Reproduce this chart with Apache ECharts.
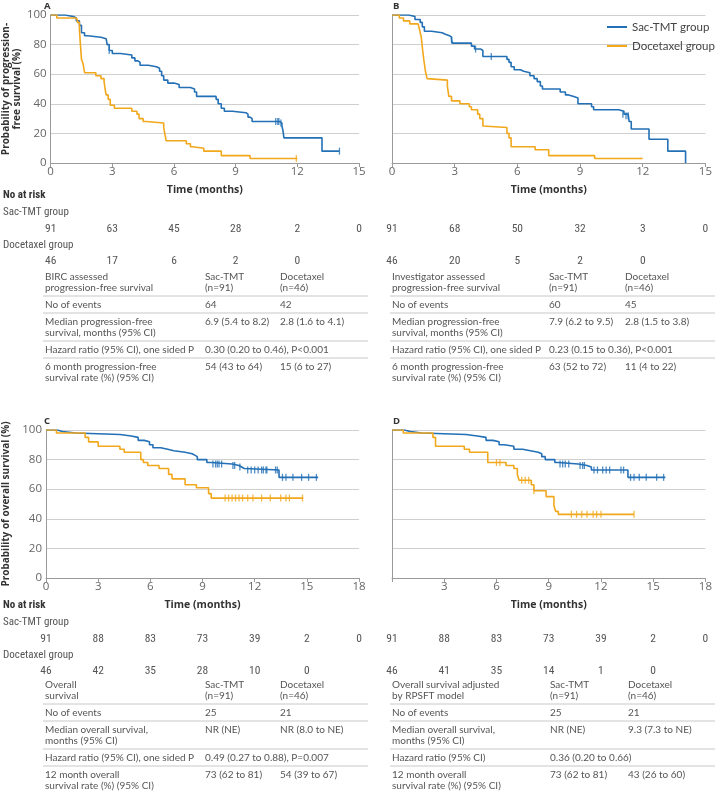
<!DOCTYPE html>
<html><head><meta charset="utf-8">
<script src="https://cdn.jsdelivr.net/npm/echarts@6/dist/echarts.min.js"></script>
<style>html,body{margin:0;padding:0;background:#fff}#c{width:715px;height:800px}</style>
</head><body><div id="c"></div>
<script>
const BLUE = '#2370b6', ORANGE = '#f2a81d';

// ---- Panel A: BIRC assessed PFS ----
const aSac = [[0,100],[0.7,99],[1.1,98],[1.25,96],[1.4,93],[1.5,88],[1.65,86],[1.8,85],[2.45,84],[2.7,83],[2.75,80],[2.85,76],[3.0,74],[3.4,73],[3.95,71],[4.1,69],[4.25,68],[4.35,66],[4.75,65],[5.15,64],[5.3,62],[5.4,59],[5.5,56],[5.7,54],[6.0,53],[6.25,51],[6.8,50],[7.0,48],[7.1,45],[8.05,43],[8.15,40],[8.3,37],[8.45,35],[8.85,34],[9.5,33],[9.6,31],[9.7,30],[9.8,28],[11.15,27],[11.25,25],[11.3,22],[11.35,17],[13.2,8],[14.05,8]];
const aSacCens = [[2.85,76],[10.95,28],[11.05,28],[11.1,28],[11.2,27],[14.05,8]];
const aDoc = [[0,100],[0.3,98],[1.2,97],[1.3,95],[1.4,90],[1.45,80],[1.5,70],[1.58,67],[1.65,61],[2.2,59],[2.45,57],[2.6,55],[2.65,50],[2.7,46],[2.8,43],[2.9,39],[3.1,37],[3.95,35],[4.2,33],[4.3,30],[4.5,28],[4.65,27],[5.5,24],[5.55,20],[5.62,15],[6.6,13],[6.8,11],[6.9,10],[7.45,8],[8.3,5],[9.7,3],[12.0,3]];
const aDocCens = [[11.95,3]];

// ---- Panel B: Investigator assessed PFS ----
const bSac = [[0,100],[0.8,99],[1.1,97],[1.35,95],[1.45,92],[1.55,89],[1.9,88],[2.4,87],[2.55,86],[2.75,85],[2.85,83],[2.9,81],[3.8,79],[3.95,77],[4.25,76],[4.35,72],[5.5,70],[5.6,68],[5.7,65],[5.85,63],[6.15,62],[6.3,61],[6.6,59],[6.8,57],[6.95,55],[7.1,52],[7.2,50],[8.05,48],[8.3,46],[8.45,45],[8.7,44],[8.9,40],[9.55,38],[9.65,36],[10.85,35],[11.1,33],[11.3,32],[11.35,28],[11.45,23],[12.3,16],[13.2,8],[14.05,0]];
const bSacCens = [[2.85,83],[4.0,77],[4.75,72],[11.05,33],[11.2,32],[11.3,32]];
const bDoc = [[0,100],[0.35,98],[0.55,96],[0.85,94],[1.25,93],[1.32,90],[1.4,85],[1.47,76],[1.52,70],[1.6,62],[1.68,57],[1.72,56],[2.65,52],[2.72,45],[2.85,42],[3.25,40],[3.7,38],[3.8,36],[4.1,33],[4.2,30],[4.35,25],[4.4,24],[5.5,20],[5.6,17],[5.7,11],[6.85,9],[7.5,5],[9.7,3],[12.0,3]];
const bDocCens = [];

// ---- Panel C: Overall survival ----
const cSac = [[0,100],[0.65,99],[0.95,98],[1.7,97],[4.25,96],[4.9,95],[5.3,93],[5.65,92],[5.95,90],[6.15,88],[6.6,87],[7.0,86],[7.35,85],[8.0,84],[8.4,83],[8.55,82],[8.7,80],[9.25,78],[9.5,77],[10.7,76],[11.1,75],[11.25,74],[11.4,73],[13.4,68],[15.65,68]];
const cSacCens = [[9.6,77],[9.75,77],[9.85,77],[9.95,77],[10.1,77],[10.75,76],[10.85,76],[11.15,75],[11.6,73],[11.8,73],[12.0,73],[12.2,73],[12.4,73],[12.5,73],[12.65,73],[12.7,73],[13.2,73],[13.3,73],[13.6,68],[13.8,68],[14.2,68],[14.7,68],[15.1,68],[15.55,68]];
const cDoc = [[0,100],[0.6,98],[2.25,95],[2.45,92],[3.0,89],[4.25,87],[4.5,85],[5.45,80],[5.6,78],[5.85,76],[6.5,74],[7.05,70],[7.25,67],[8.0,63],[8.65,61],[9.35,57],[9.5,54],[14.8,54]];
const cDocCens = [[10.3,54],[10.5,54],[10.7,54],[10.9,54],[11.1,54],[11.3,54],[11.6,54],[11.9,54],[12.4,54],[12.9,54],[13.5,54],[13.8,54],[14.0,54],[14.75,54]];

// ---- Panel D: OS adjusted by RPSFT ----
const dSac = [[0,100],[0.7,99],[1.05,98],[1.7,97],[4.25,96],[4.9,95],[5.4,93],[5.8,92],[6.15,90],[6.45,89],[7.0,87],[7.5,86],[7.95,85],[8.4,84],[8.6,82],[8.8,80],[9.35,78],[9.55,77],[10.7,76],[11.2,75],[11.45,73],[13.55,68],[15.7,68]];
const dSacCens = [[9.65,77],[9.8,77],[9.95,77],[10.15,77],[10.8,76],[10.95,76],[11.05,76],[11.6,73],[11.8,73],[12.1,73],[12.3,73],[12.5,73],[13.15,73],[13.3,73],[13.7,68],[13.9,68],[14.2,68],[14.6,68],[15.2,68],[15.6,68]];
const dDoc = [[0,100],[0.65,98],[2.35,95],[2.5,89],[4.15,87],[4.45,85],[5.5,78],[6.55,76],[7.0,74],[7.2,70],[7.3,66],[8.0,63],[8.15,59],[8.85,55],[9.3,49],[9.4,45],[9.55,43],[13.9,43]];
const dDocCens = [[6.0,78],[6.2,78],[7.45,66],[7.65,66],[7.85,66],[8.15,59],[10.3,43],[10.6,43],[10.9,43],[11.2,43],[11.55,43],[11.75,43],[12.0,43],[13.9,43]];

// ---- Axes ----
const yTicks = [0,20,40,60,80,100];
const pfsMax = 15, osMax = 18, xStep = 3;

// ---- Numbers at risk ----
const riskTimesPFS = [0,3,6,9,12,15];
const riskTimesOS = [0,3,6,9,12,15,18];
const riskA_sac = [91,63,45,28,2,0];
const riskA_doc = [46,17,6,2,0];
const riskB_sac = [91,68,50,32,3,0];
const riskB_doc = [46,20,5,2,0];
const riskC_sac = [91,88,83,73,39,2,0];
const riskC_doc = [46,42,35,28,10,0];
const riskD_sac = [91,88,83,73,39,2,0];
const riskD_doc = [46,41,35,14,1,0];

// ---- Summary tables ----
const tableA = [
  [['BIRC assessed','progression-free survival'],['Sac-TMT','(n=91)'],['Docetaxel','(n=46)']],
  [['No of events'],['64'],['42']],
  [['Median progression-free','survival, months (95% CI)'],['6.9 (5.4 to 8.2)'],['2.8 (1.6 to 4.1)']],
  [['Hazard ratio (95% CI), one sided P'],['0.30 (0.20 to 0.46), P<0.001'],['']],
  [['6 month progression-free','survival rate (%) (95% CI)'],['54 (43 to 64)'],['15 (6 to 27)']]
];
const tableB = [
  [['Investigator assessed','progression-free survival'],['Sac-TMT','(n=91)'],['Docetaxel','(n=46)']],
  [['No of events'],['60'],['45']],
  [['Median progression-free','survival, months (95% CI)'],['7.9 (6.2 to 9.5)'],['2.8 (1.5 to 3.8)']],
  [['Hazard ratio (95% CI), one sided P'],['0.23 (0.15 to 0.36), P<0.001'],['']],
  [['6 month progression-free','survival rate (%) (95% CI)'],['63 (52 to 72)'],['11 (4 to 22)']]
];
const tableC = [
  [['Overall','survival'],['Sac-TMT','(n=91)'],['Docetaxel','(n=46)']],
  [['No of events'],['25'],['21']],
  [['Median overall survival,','months (95% CI)'],['NR (NE)'],['NR (8.0 to NE)']],
  [['Hazard ratio (95% CI), one sided P'],['0.49 (0.27 to 0.88), P=0.007'],['']],
  [['12 month overall','survival rate (%) (95% CI)'],['73 (62 to 81)'],['54 (39 to 67)']]
];
const tableD = [
  [['Overall survival adjusted','by RPSFT model'],['Sac-TMT','(n=91)'],['Docetaxel','(n=46)']],
  [['No of events'],['25'],['21']],
  [['Median overall survival,','months (95% CI)'],['NR (NE)'],['9.3 (7.3 to NE)']],
  [['Hazard ratio (95% CI)'],['0.36 (0.20 to 0.66)'],['']],
  [['12 month overall','survival rate (%) (95% CI)'],['73 (62 to 81)'],['43 (26 to 60)']]
];

const chart = echarts.init(document.getElementById('c'), null, {renderer:'canvas'});
const grids = [
  {left:43, top:15, width:316, height:148},
  {left:392, top:15, width:316, height:148},
  {left:43, top:430, width:316, height:148},
  {left:392, top:430, width:316, height:148}
];
const AX = '#9a9a9a';
function xAx(gi, max, hideZero){
  return {gridIndex:gi, type:'value', min:0, max:max, interval:xStep,
    axisLine:{show:true, onZero:false, lineStyle:{color:AX, width:1}},
    axisTick:{show:true, length:4, lineStyle:{color:AX}},
    splitLine:{show:false},
    axisLabel:{color:'#666', fontSize:11.5, fontFamily:'Open Sans', margin:3,
      formatter: v => (hideZero && v === 0) ? '' : String(v)},
    name:'Time (months)', nameLocation:'middle', nameGap:22,
    nameTextStyle:{fontFamily:'Open Sans', fontWeight:'bold', fontSize:10.5, color:'#333'}};
}
function yAx(gi, showLabels, name, gap){
  return {gridIndex:gi, type:'value', min:yTicks[0], max:yTicks[yTicks.length-1], interval:20,
    axisLine:{show:true, lineStyle:{color:AX, width:1}},
    axisTick:{show:false},
    splitLine:{show:true, lineStyle:{color:'#cfcfcf', width:1}},
    axisLabel:{show:showLabels, color:'#666', fontSize:11.5, fontFamily:'Open Sans', margin:4},
    name:name, nameLocation:'middle', nameRotate:90, nameGap:gap,
    nameTextStyle:{fontFamily:'Open Sans', fontWeight:'bold', fontSize:10, color:'#333', lineHeight:11}};
}
function km(name, data, cens, color, gi){
  return [
    {name:name, type:'line', xAxisIndex:gi, yAxisIndex:gi, step:'end', data:data,
      symbol:'none', lineStyle:{color:color, width:1.6}, itemStyle:{color:color}, z:3},
    {name:name, type:'scatter', xAxisIndex:gi, yAxisIndex:gi, data:cens,
      symbol:'rect', symbolSize:[1.3,7], itemStyle:{color:color}, z:4, silent:true}
  ];
}
const series = [].concat(
  km('Sac-TMT group', aSac, aSacCens, BLUE, 0),
  km('Docetaxel group', aDoc, aDocCens, ORANGE, 0),
  km('Sac-TMT group', bSac, bSacCens, BLUE, 1),
  km('Docetaxel group', bDoc, bDocCens, ORANGE, 1),
  km('Sac-TMT group', cSac, cSacCens, BLUE, 2),
  km('Docetaxel group', cDoc, cDocCens, ORANGE, 2),
  km('Sac-TMT group', dSac, dSacCens, BLUE, 3),
  km('Docetaxel group', dDoc, dDocCens, ORANGE, 3)
);
chart.setOption({
  animation:false,
  grid:grids,
  xAxis:[xAx(0,pfsMax,false), xAx(1,pfsMax,false), xAx(2,osMax,false), xAx(3,osMax,true)],
  yAxis:[yAx(0,true,'Probability of progression-\nfree survival (%)',27), yAx(1,false,'',0),
         yAx(2,true,'Probability of overall survival (%)',34), yAx(3,false,'',0)],
  legend:{left:602, top:16, orient:'vertical', itemWidth:20, itemHeight:2, itemGap:7, icon:'rect',
    data:['Sac-TMT group','Docetaxel group'],
    textStyle:{fontFamily:'Lato', fontSize:11.5, color:'#444'}},
  series:series
});

// ---- Graphic text: panel letters, numbers at risk, tables ----
const g = [];
const NARROW = "'Liberation Sans Narrow', 'Roboto Condensed', Lato, sans-serif";
const TXT = '#555';
function text(t, x, y, opt){
  opt = opt || {};
  g.push({type:'text', silent:true, style:{text:t, x:x, y:y,
    fontSize:opt.size||10.5, fontFamily:opt.font||'Lato', fontWeight:opt.weight||'normal',
    fill:opt.color||TXT, textAlign:opt.align||'left', textVerticalAlign:'middle'}});
}
function hline(x1, x2, y){
  g.push({type:'line', silent:true, shape:{x1:x1,y1:y,x2:x2,y2:y}, style:{stroke:'#c8c8c8', lineWidth:1}});
}
function letter(t, gi){
  text(t, grids[gi].left + 1, grids[gi].top - 9, {weight:'bold', size:9.5, color:'#333', font:'Open Sans'});
}
['A','B','C','D'].forEach((t,i)=>letter(t,i));

// vertical offsets (px below plot bottom) of the rows under each panel
const riskOffsetTop = 0, riskOffsetBottom = -5;
function riskBlock(gi, times, sac, doc, showLabels, off){
  const base = grids[gi].top + grids[gi].height + off;
  if (showLabels){
    text('No at risk', 3, base + 32, {weight:'bold', font:NARROW, size:11, color:'#333'});
    text('Sac-TMT group', 3, base + 49, {font:NARROW, size:11});
    text('Docetaxel group', 3, base + 82, {font:NARROW, size:11});
  }
  sac.forEach((v,i)=>{
    const x = chart.convertToPixel({xAxisIndex:gi}, times[i]);
    text(String(v), x, base + 66, {font:NARROW, size:11.5, align:'center'});
  });
  doc.forEach((v,i)=>{
    const x = chart.convertToPixel({xAxisIndex:gi}, times[i]);
    text(String(v), x, base + 98, {font:NARROW, size:11.5, align:'center'});
  });
}
riskBlock(0, riskTimesPFS, riskA_sac, riskA_doc, true, riskOffsetTop);
riskBlock(1, riskTimesPFS, riskB_sac, riskB_doc, false, riskOffsetTop);
riskBlock(2, riskTimesOS, riskC_sac, riskC_doc, true, riskOffsetBottom);
riskBlock(3, riskTimesOS, riskD_sac, riskD_doc, false, riskOffsetBottom);

function table(rows, gi, x0, colX, x2, off){
  let y = grids[gi].top + grids[gi].height + 114 + off;
  const LH = 11;
  rows.forEach((row, ri)=>{
    const nLines = Math.max.apply(null, row.map(c=>c.length));
    row.forEach((cell, ci)=>{
      const cx = ci === 0 ? x0 : colX[ci-1];
      cell.forEach((ln, li)=> text(ln, cx, y + li*LH, {size:10}));
    });
    const last = y + (nLines-1)*LH;
    if (ri < rows.length-1){
      hline(x0 - 2, x2, last + 8);
      y = last + 17;
    }
  });
}
table(tableA, 0, 45, [205, 280], 368, 0);
table(tableB, 1, 392, [549, 625], 715, 0);
table(tableC, 2, 45, [205, 280], 368, -7);
table(tableD, 3, 392, [550, 628], 715, -7);

chart.setOption({graphic:g});
</script></body></html>
